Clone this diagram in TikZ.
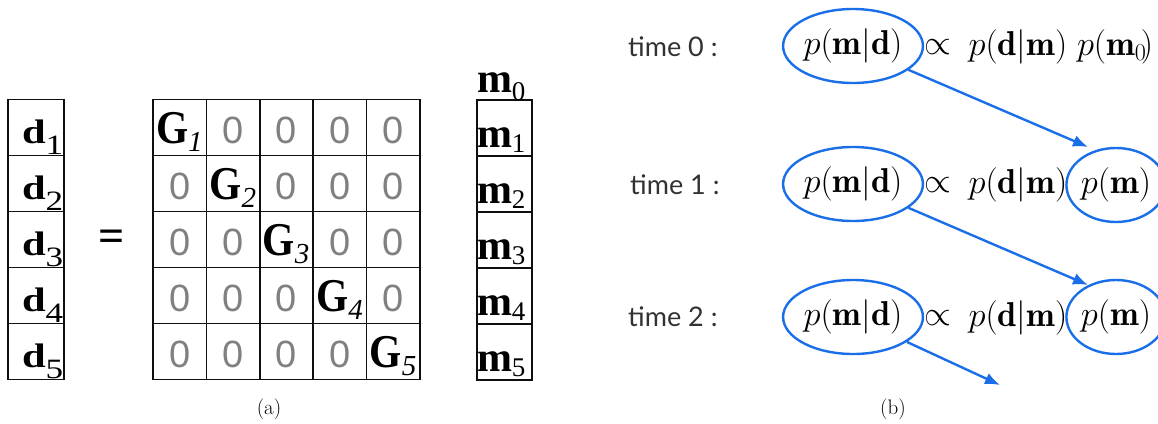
\RequirePackage{fix-cm}
\documentclass[tikz,border=0pt]{standalone}
\usepackage{fontspec}
\usepackage{graphicx}
\newfontfamily\tms{Liberation Serif}
\newfontfamily\hlv{Liberation Sans}
\newfontfamily\lbl{Lato}
\usetikzlibrary{arrows.meta,shapes.geometric,calc}

\definecolor{gridink}{RGB}{15,15,15}
\definecolor{zerogray}{RGB}{128,128,128}
\definecolor{linkblue}{RGB}{26,110,232}
\definecolor{labelgray}{RGB}{50,50,50}

% bold block symbols with their subscripts
\newcommand\dvec[1]{\scalebox{1.25}[1]{{\fontsize{34}{34}\selectfont\bfseries d}\raisebox{-11pt}{\fontsize{28}{28}\selectfont #1}}}
\newcommand\gblk[1]{\scalebox{0.88}[1]{\fontsize{47}{47}\selectfont\bfseries G}\raisebox{-8pt}{\fontsize{29}{29}\selectfont\itshape #1}}
\newcommand\mvec[2]{{\fontsize{42}{42}\selectfont\bfseries m}\raisebox{-#2}{\fontsize{27}{27}\selectfont #1}}

\begin{document}
\begin{tikzpicture}[x=1pt,y=-1pt,
  gridbox/.style={draw=gridink, line width=1.5pt, minimum width=#1,
    minimum height=56pt, inner sep=0pt, outer sep=0pt},
  symb/.style={inner sep=0pt, outer sep=0pt, font=\tms, text=black},
  zero/.style={inner sep=0pt, outer sep=0pt, text=zerogray,
    font=\hlv\fontsize{38}{38}\selectfont},
  post/.style={ellipse, draw=linkblue, line width=2.4pt, minimum width=126pt,
    minimum height=74pt, inner sep=0pt, font=\fontsize{34.5}{34.5}\selectfont},
  prior/.style={ellipse, draw=linkblue, line width=2.4pt, minimum width=86pt,
    minimum height=74pt, inner sep=0pt, font=\fontsize{34.5}{34.5}\selectfont},
  eq/.style={inner sep=0pt, font=\fontsize{34.5}{34.5}\selectfont},
  timelbl/.style={inner sep=0pt, anchor=base west, text=labelgray,
    font=\lbl\fontsize{27}{27}\selectfont},
  caption/.style={inner sep=0pt, font=\fontsize{21}{21}\selectfont},
  link/.style={draw=linkblue, line width=2.4pt, -{Latex[length=15pt,width=12pt]}}]

\useasboundingbox (0,0) rectangle (1158,423);

% ---------- (a) block-diagonal system d = G m ----------
\foreach \r in {1,...,5} {
  % data vector
  \node[gridbox=56pt] (d\r) at (36,{127.5+56*(\r-1)}) {};
  \node[symb, anchor=base west] (dt\r) at ($(d\r.west)+(14,15.5)$) {\dvec{\r}};
  % model vector
  \node[gridbox=55pt] (m\r) at (504.5,{128+56*(\r-1)}) {};
  \node[symb, anchor=base west] (mt\r) at ($(m\r.west)+(0,19)$) {\mvec{\r}{5pt}};
  % operator blocks
  \foreach \c in {1,...,5} {
    \node[gridbox=53.4pt] (g\r\c) at ({179.7+53.4*(\c-1)},{127.5+56*(\r-1)}) {};
    \ifnum\r=\c
      \node[symb, anchor=base west] (gt\r\c) at ($(g\r\c.west)+(3,15.5)$) {\gblk{\r}};
    \else
      \node[zero, anchor=base] (gt\r\c) at ($(g\r\c.center)+(0,15.5)$) {0};
    \fi
  }
}
\node[symb, anchor=base west] (m0) at (477,92) {\mvec{0}{8pt}};
\node[symb, anchor=base, font=\tms\bfseries\fontsize{46}{46}\selectfont] (eqsign) at (112,251) {=};
\node[caption] (capa) at (269,409) {(a)};

% ---------- (b) sequential Bayesian updating ----------
\node[timelbl] (tl0) at (628,56) {time 0 :};
\node[timelbl] (tl1) at (630,194) {time 1 :};
\node[timelbl] (tl2) at (628,326) {time 2 :};

% time 0
\node[post] (e0) at (853,46) {$p(\mathbf{m}|\mathbf{d})$};
\node[eq] (pr0) at (938,47) {$\propto$};
\node[eq] (lk0) at (1018,47) {$p(\mathbf{d}|\mathbf{m})$};
\node[eq] (pm0) at (1115,47) {$p(\mathbf{m}_{0}\mkern-3mu)$};

% time 1
\node[post] (e1) at (853,184) {$p(\mathbf{m}|\mathbf{d})$};
\node[eq] (pr1) at (938,185) {$\propto$};
\node[eq] (lk1) at (1018,185) {$p(\mathbf{d}|\mathbf{m})$};
\node[prior] (q1) at (1116,185) {$p(\mathbf{m})$};

% time 2
\node[post] (e2) at (853,317) {$p(\mathbf{m}|\mathbf{d})$};
\node[eq] (pr2) at (938,318) {$\propto$};
\node[eq] (lk2) at (1018,318) {$p(\mathbf{d}|\mathbf{m})$};
\node[prior] (q2) at (1116,317) {$p(\mathbf{m})$};

% each posterior feeds the next prior
\coordinate (t1) at (1088,147);
\coordinate (t2) at (1088,285);
\coordinate (t3) at (1000,385);
\draw[link] (e0) -- (t1);
\draw[link] (e1) -- (t2);
\draw[link] (e2) -- (t3);

\node[caption] (capb) at (893,409) {(b)};
\end{tikzpicture}
\end{document}
